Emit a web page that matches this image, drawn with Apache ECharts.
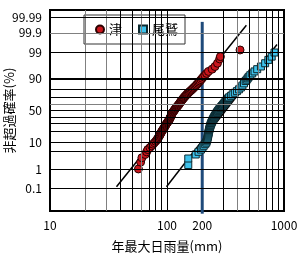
<!DOCTYPE html>
<html><head><meta charset="utf-8">
<script src="https://cdn.jsdelivr.net/npm/echarts@6/dist/echarts.min.js"></script>
<style>html,body{margin:0;padding:0;background:#fff}#c{width:299px;height:254px}</style>
</head><body><div id="c"></div>
<script>
// ---- data ----
const probTicks = [0.1, 1, 10, 50, 90, 99, 99.9, 99.99];
const probTickLabels = ['0.1', '1', '10', '50', '90', '99', '99.9', '99.99'];
const probGrid = [0.1, 1, 5, 10, 20, 30, 40, 50, 60, 70, 80, 99, 99.9, 99.99];
const probGridMajor = [90];
const rainTicks = [10, 100, 200, 1000];
const rainGridBlack = [40, 50, 70, 80, 90, 100, 300, 500, 700, 800, 900];
const rainGridGray = [20, 30, 60, 400, 600];

// 津 : annual max daily rainfall (mm) and non-exceedance probability (%)
const tsuRain = [57, 59.5, 61, 65, 67, 68.5, 71.5, 74, 76, 78, 80, 81.7, 83, 84.3, 85.5, 86.5, 87.4, 88.3, 89.2, 90,
  91, 92, 93, 94, 95, 95.8, 96.6, 97.4, 98.2, 99, 100, 101, 102, 103, 104, 104.7, 105.4, 106.1, 106.8, 107.5,
  108, 108.5, 109, 109.5, 110, 111, 112, 113, 114, 115, 116, 117, 118.2, 119.4, 120.5, 121.8, 123, 124.3, 125.6, 127,
  128, 129, 130.2, 131.4, 132.5, 134, 135.5, 137, 138.5, 140, 142, 144, 146, 148, 150, 152.5, 155, 158, 161, 164,
  167, 170, 173.5, 177, 180, 184, 187.5, 191, 195.5, 200, 205, 211, 218, 226, 243, 257, 270, 282, 286, 421];
const tsuProb = [1, 2, 3, 4, 5, 6, 7, 8, 9, 10, 11, 12, 13, 14, 15, 16, 17, 18, 19, 20,
  21, 22, 23, 24, 25, 26, 27, 28, 29, 30, 31, 32, 33, 34, 35, 36, 37, 38, 39, 40,
  41, 42, 43, 44, 45, 46, 47, 48, 49, 50, 51, 52, 53, 54, 55, 56, 57, 58, 59, 60,
  61, 62, 63, 64, 65, 66, 67, 68, 69, 70, 71, 72, 73, 74, 75, 76, 77, 78, 79, 80,
  81, 82, 83, 84, 85, 86, 87, 88, 89, 90, 91, 92, 93, 94, 95, 96, 97, 98, 98.4, 99.2];

// 尾鷲
const owaseRain = [152, 152, 176, 186, 195, 201, 206, 212, 216.5, 218.3, 220, 221.3, 222.5, 223.5, 224.5, 225.3, 226, 226.8, 227.5,
  228.5, 229.5, 230.5, 231.5, 232.5, 233.5, 234.5, 235.5, 236.8, 238, 239.5, 241, 242.5, 244, 245.5, 247, 248.8, 250.5, 252.3, 254,
  256, 258, 260, 262, 264, 266, 268, 270, 272.5, 275, 277.5, 280, 283, 286, 289, 292, 295, 298, 301.5, 305,
  308, 311, 314.5, 318, 321, 324, 328, 332, 336, 340, 352, 364, 380, 396, 412, 428, 441, 455, 470, 480, 490,
  500, 515, 535, 560, 590, 635, 690, 735, 785, 830];
const owaseProb = [1.5, 2.8, 4, 5, 6, 7, 8, 9, 10, 11, 12, 13, 14, 15, 16, 17, 18, 19, 20,
  21, 22, 23, 24, 25, 26, 27, 28, 29, 30, 31, 32, 33, 34, 35, 36, 37, 38, 39, 40,
  41, 42, 43, 44, 45, 46, 47, 48, 49, 50, 51, 52, 53, 54, 55, 56, 57, 58, 59, 60,
  61, 62, 63, 64, 65, 66, 67, 68, 69, 70, 72, 74, 76, 78, 80, 82, 84, 86, 88, 89, 90,
  91, 92, 93, 94, 95, 96, 97, 97.8, 98.4, 98.95];

const tsuFitRain = [37, 477];
const tsuFitProb = [0.12, 99.965];
const owaseFitRain = [99, 871];
const owaseFitProb = [0.12, 99.57];
const refRain = [200, 200];
const refProb = [99.979, 0.002];

// ---- normal probability transform ----
function normInv(p) {
  const a = [-3.969683028665376e+01, 2.209460984245205e+02, -2.759285104469687e+02, 1.383577518672690e+02, -3.066479806614716e+01, 2.506628277459239e+00];
  const b = [-5.447609879822406e+01, 1.615858368580409e+02, -1.556989798598866e+02, 6.680131188771972e+01, -1.328068155288572e+01];
  const c = [-7.784894002430293e-03, -3.223964580411365e-01, -2.400758277161838e+00, -2.549732539343734e+00, 4.374664141464968e+00, 2.938163982698783e+00];
  const d = [7.784695709041462e-03, 3.224671290700398e-01, 2.445134137142996e+00, 3.754408661907416e+00];
  const pl = 0.02425, ph = 1 - pl;
  let q, r;
  if (p < pl) { q = Math.sqrt(-2 * Math.log(p)); return (((((c[0]*q+c[1])*q+c[2])*q+c[3])*q+c[4])*q+c[5]) / ((((d[0]*q+d[1])*q+d[2])*q+d[3])*q+1); }
  if (p <= ph) { q = p - 0.5; r = q*q; return (((((a[0]*r+a[1])*r+a[2])*r+a[3])*r+a[4])*r+a[5])*q / (((((b[0]*r+b[1])*r+b[2])*r+b[3])*r+b[4])*r+1); }
  q = Math.sqrt(-2 * Math.log(1 - p)); return -(((((c[0]*q+c[1])*q+c[2])*q+c[3])*q+c[4])*q+c[5]) / ((((d[0]*q+d[1])*q+d[2])*q+d[3])*q+1);
}
const Z = p => normInv(p / 100);
const pairs = (xs, ps) => xs.map((x, i) => [x, Z(ps[i])]);

const FONT = '"Noto Sans CJK JP", "Noto Sans", sans-serif';
const tickZ = probTicks.map(Z);

const gridLines = [];
rainGridBlack.forEach(v => gridLines.push({ xAxis: v, lineStyle: { color: '#000', width: 1, type: 'solid' } }));
rainGridGray.forEach(v => gridLines.push({ xAxis: v, lineStyle: { color: '#808080', width: 1, type: 'solid' } }));
probGrid.forEach(p => gridLines.push({ yAxis: Z(p), lineStyle: { color: (p === 99.9 || p === 60) ? '#808080' : '#000', width: 1, type: 'solid' } }));
probGridMajor.forEach(p => gridLines.push({ yAxis: Z(p), lineStyle: { color: '#000', width: 2, type: 'solid' } }));

const chart = echarts.init(document.getElementById('c'), null, { renderer: 'canvas' });
chart.setOption({
  animation: false,
  backgroundColor: '#fff',
  textStyle: { fontFamily: FONT },
  grid: { left: 50, top: 10, right: 15, bottom: 43, outerBoundsMode: 'none', containLabel: false, show: true, borderColor: '#000', borderWidth: 2, backgroundColor: 'transparent' },
  legend: {
    left: 84, top: 15, orient: 'horizontal',
    data: [{ name: '津', icon: 'circle' }, { name: '尾鷲', icon: 'rect' }],
    backgroundColor: '#fff', borderColor: '#333', borderWidth: 1,
    padding: [8, 7, 8, 11], itemWidth: 8, itemHeight: 8, itemGap: 16,
    textStyle: { fontSize: 13, color: '#000', fontFamily: FONT }
  },
  xAxis: {
    type: 'log', logBase: 10, min: 10, max: 1000,
    name: '年最大日雨量(mm)', nameLocation: 'middle', nameGap: 29, nameMoveOverlap: false,
    nameTextStyle: { fontSize: 13, color: '#000', fontFamily: FONT },
    axisLine: { show: false }, axisTick: { show: false }, splitLine: { show: false },
    axisLabel: { customValues: rainTicks, fontSize: 12, color: '#000', margin: 8, fontFamily: FONT,
      formatter: v => String(Math.round(v)) }
  },
  yAxis: {
    type: 'value', min: -4, max: 4,
    name: '非超過確率(%)', nameLocation: 'middle', nameRotate: 90, nameGap: 34, nameMoveOverlap: false,
    nameTextStyle: { fontSize: 13, color: '#000', fontFamily: FONT },
    axisLine: { show: false }, axisTick: { show: false }, splitLine: { show: false },
    axisLabel: {
      customValues: tickZ, fontSize: 12, color: '#000', margin: 8, fontFamily: FONT,
      formatter: v => { let bi = 0, bd = 1e9; tickZ.forEach((t, i) => { const d = Math.abs(t - v); if (d < bd) { bd = d; bi = i; } }); return probTickLabels[bi]; }
    }
  },
  series: [
    { type: 'line', name: 'grid', data: [], silent: true, z: 1,
      markLine: { silent: true, symbol: ['none', 'none'], label: { show: false }, animation: false, data: gridLines } },
    { type: 'line', name: 'ref', data: pairs(refRain, refProb), symbol: 'none', clip: false, silent: true, z: 2,
      lineStyle: { color: '#1f4a7a', width: 3 } },
    { type: 'line', name: 'fit1', data: pairs(tsuFitRain, tsuFitProb), symbol: 'none', silent: true, z: 3,
      lineStyle: { color: '#000', width: 1.5 } },
    { type: 'line', name: 'fit2', data: pairs(owaseFitRain, owaseFitProb), symbol: 'none', silent: true, z: 3,
      lineStyle: { color: '#000', width: 1.5 } },
    { type: 'scatter', name: '津', data: pairs(tsuRain, tsuProb), symbol: 'circle', symbolSize: 8, z: 4,
      itemStyle: { color: '#c8161d', borderColor: '#2a0000', borderWidth: 1, opacity: 1 } },
    { type: 'scatter', name: '尾鷲', data: pairs(owaseRain, owaseProb), symbol: 'rect', symbolSize: 7, z: 4,
      itemStyle: { color: '#3ec2ec', borderColor: '#0d2a30', borderWidth: 1, opacity: 1 } }
  ]
});
</script></body></html>
